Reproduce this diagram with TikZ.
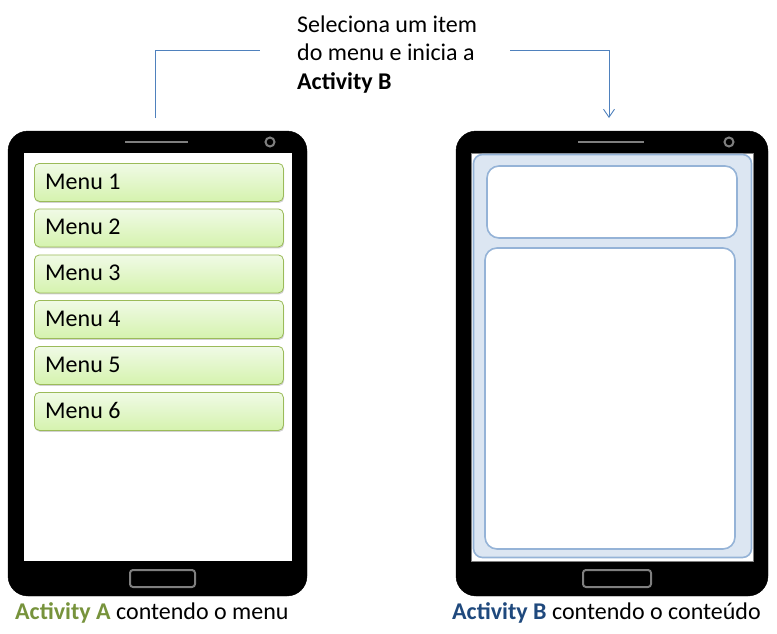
\documentclass[tikz,border=0pt]{standalone}
\usepackage{fontspec}
\setmainfont{Carlito}
\usetikzlibrary{arrows.meta,shadows}
\definecolor{conn}{HTML}{4F81BD}
\definecolor{mgreen}{HTML}{9BBB59}
\definecolor{mtop}{HTML}{F0FAE6}
\definecolor{mbot}{HTML}{D5F3AE}
\definecolor{pblue}{HTML}{DCE6F2}
\definecolor{pline}{HTML}{95B3D7}
\definecolor{actA}{HTML}{77933C}
\definecolor{actB}{HTML}{1F497D}
\definecolor{btn}{HTML}{7F7F7F}
\tikzset{
  phone/.style={fill=black, draw=black, rounded corners=20pt},
  screenB/.style={fill=white, draw=btn, line width=0.6pt},
  speaker/.style={draw=btn, line width=2.5pt},
  camera/.style={draw=btn, line width=2pt},
  homebtn/.style={draw=btn, line width=2pt, rounded corners=3pt},
  menuitem/.style={draw=mgreen, line width=0.8pt, rounded corners=5pt, top color=mtop, bottom color=mbot,
     drop shadow={shadow xshift=0.8pt, shadow yshift=-1.5pt, opacity=0.35},
     minimum width=249pt, minimum height=38pt, anchor=north west, inner sep=0pt},
  panel/.style={fill=pblue, draw=pline, line width=1.6pt, rounded corners=9pt},
  innerbox/.style={fill=white, draw=pline, line width=1.6pt, rounded corners=12pt},
  connector/.style={draw=conn, line width=0.9pt},
  lbl/.style={font=\fontsize{24}{29}\selectfont, anchor=base west, inner sep=0pt},
}
\begin{document}
\begin{tikzpicture}[x=1pt,y=-1pt]
\useasboundingbox (0,0) rectangle (777,633);
% left phone
\draw[phone] (8,131) rectangle (307,596);
\fill[white] (24,153) rectangle (292,561);
\draw[speaker] (125,142) -- (188,142);
\draw[camera] (270,142) circle (4.5);
\draw[homebtn] (130,570) rectangle (195,587);
% menu items
\foreach \i/\y in {1/163,2/208.5,3/254.5,4/300,5/346,6/392}{
  \node[menuitem] (m\i) at (34,\y) {};
  \node[lbl] (t\i) at (45,\y+26) {Menu \i};
}
% right phone
\draw[phone] (456,131) rectangle (768,596);
\draw[screenB] (471.5,153) rectangle (753,561);
\draw[speaker] (578,142) -- (644,142);
\draw[camera] (729,142) circle (4.5);
\draw[homebtn] (583,570) rectangle (651,587);
\draw[panel] (473.5,154.5) rectangle (751.5,557.5);
\draw[innerbox] (487,166) rectangle (737,238);
\draw[innerbox] (485,248) rectangle (735,549);
% top text and connector
\node[lbl] (note1) at (297,32) {Seleciona um item};
\node[lbl] (note2) at (297,60.5) {do menu e inicia a};
\node[lbl] (note3) at (297,89) {\textbf{Activity B}};
\coordinate (srcA) at (155,118);
\coordinate (dstB) at (609,118);
\draw[connector] (srcA) -- (155,50) -- (260,50);
\draw[connector, -{Straight Barb[length=8pt,width=11pt]}] (510,50) -- (609,50) -- (dstB);
% bottom labels
\node[lbl] (la) at (15,619) {\textcolor{actA}{\textbf{Activity A}} contendo o menu};
\node[lbl] (lb) at (452,619) {\textcolor{actB}{\textbf{Activity B}} contendo o conteúdo};
\end{tikzpicture}
\end{document}
